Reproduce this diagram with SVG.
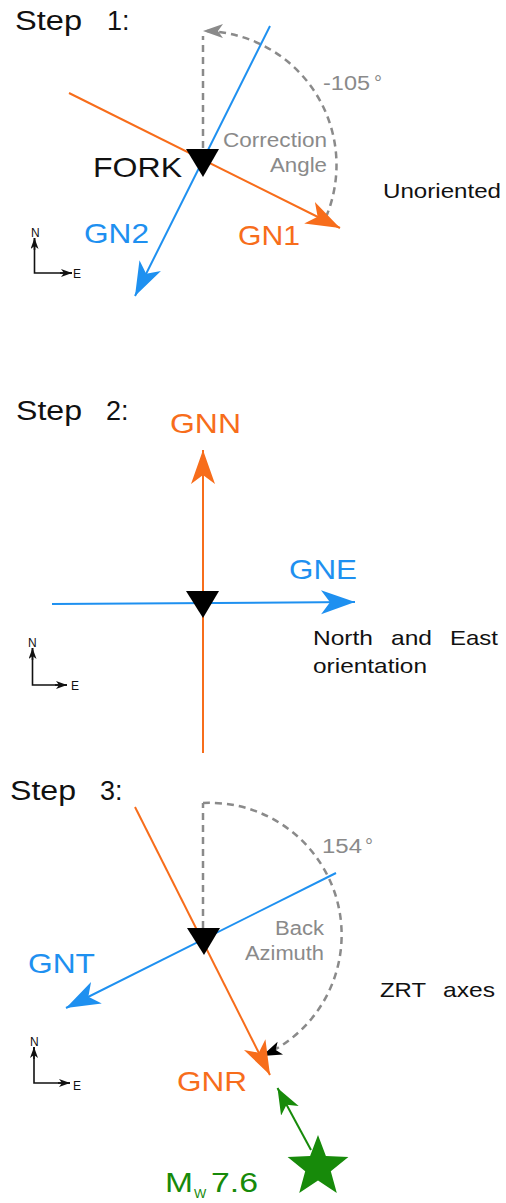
<svg xmlns="http://www.w3.org/2000/svg" width="506" height="1203" viewBox="0 0 506 1203">
<style>
text{font-family:"Liberation Sans",Arial,Helvetica,sans-serif}
.step{font-size:27px;fill:#111}
.lab{font-size:28px}
.or{fill:#f76d1b}
.bl{fill:#1e90f0}
.gr{font-size:20px;fill:#8a8a8a}
.bk{font-size:21px;fill:#111}
.ax{font-size:12px;fill:#111}
.lo{stroke:#f76d1b;stroke-width:2;fill:none}
.lb{stroke:#1e90f0;stroke-width:2;fill:none}
.dash{stroke:#8a8a8a;stroke-width:2.5;stroke-dasharray:7 5;fill:none}
.axl{stroke:#111;stroke-width:1.6;fill:none}
.tri{fill:#000}
</style>
<defs>
<marker id="ao" markerUnits="userSpaceOnUse" markerWidth="36" markerHeight="26" viewBox="0 0 36 26" refX="34" refY="12" orient="auto"><path d="M0,0 L34,12 L0,24 L9,12 Z" fill="#f76d1b"/></marker>
<marker id="ab" markerUnits="userSpaceOnUse" markerWidth="36" markerHeight="26" viewBox="0 0 36 26" refX="34" refY="12" orient="auto"><path d="M0,0 L34,12 L0,24 L9,12 Z" fill="#1e90f0"/></marker>
<marker id="ag" markerUnits="userSpaceOnUse" markerWidth="28" markerHeight="24" viewBox="0 0 28 24" refX="26" refY="10" orient="auto"><path d="M0,0 L26,10 L0,20 L7,10 Z" fill="#178a0a"/></marker>
<marker id="agr" markerUnits="userSpaceOnUse" markerWidth="22" markerHeight="16" viewBox="0 0 22 16" refX="20" refY="7" orient="auto"><path d="M0,0 L20,7 L0,14 L5,7 Z" fill="#8a8a8a"/></marker>
<marker id="ak" markerUnits="userSpaceOnUse" markerWidth="22" markerHeight="16" viewBox="0 0 22 16" refX="20" refY="7" orient="auto"><path d="M0,0 L20,7 L0,14 L5,7 Z" fill="#000"/></marker>
<marker id="as" markerUnits="userSpaceOnUse" markerWidth="12" markerHeight="10" viewBox="0 0 12 10" refX="11" refY="4" orient="auto"><path d="M0,0 L11,4 L0,8 L3,4 Z" fill="#111"/></marker>
</defs>

<g id="connectors">
  <!-- Step 1 -->
  <line class="dash" x1="203" y1="148" x2="203" y2="36"/>
  <path class="dash" d="M326,217 A134,134 0 0 0 203,31" marker-end="url(#agr)"/>
  <line class="lo" x1="69" y1="93" x2="340" y2="228" marker-end="url(#ao)"/>
  <line class="lb" x1="270" y1="26" x2="135" y2="296" marker-end="url(#ab)"/>
  <polyline class="axl" points="34.5,238 34.5,273 72,273"/>
  <line class="axl" x1="34.5" y1="250" x2="34.5" y2="238" marker-end="url(#as)"/>
  <line class="axl" x1="60" y1="273" x2="72" y2="273" marker-end="url(#as)"/>
  <!-- Step 2 -->
  <line class="lo" x1="203" y1="753" x2="203" y2="450" marker-end="url(#ao)"/>
  <line class="lb" x1="52" y1="604" x2="355" y2="602" marker-end="url(#ab)"/>
  <polyline class="axl" points="32.5,648 32.5,685 67,685"/>
  <line class="axl" x1="32.5" y1="660" x2="32.5" y2="648" marker-end="url(#as)"/>
  <line class="axl" x1="55" y1="685" x2="67" y2="685" marker-end="url(#as)"/>
  <!-- Step 3 -->
  <line class="dash" x1="203" y1="928" x2="203" y2="803"/>
  <path class="dash" d="M203,803 A132,132 0 0 1 262,1056" marker-end="url(#ak)"/>
  <line class="lo" x1="135" y1="807" x2="270" y2="1075" marker-end="url(#ao)"/>
  <line class="lb" x1="336" y1="873" x2="66" y2="1008" marker-end="url(#ab)"/>
  <line stroke="#178a0a" stroke-width="2" x1="311" y1="1150" x2="277.5" y2="1088" marker-end="url(#ag)"/>
  <polyline class="axl" points="34,1047 34,1083 70,1083"/>
  <line class="axl" x1="34" y1="1059" x2="34" y2="1047" marker-end="url(#as)"/>
  <line class="axl" x1="58" y1="1083" x2="70" y2="1083" marker-end="url(#as)"/>
</g>

<g id="step1">
  <text class="step" x="15" y="30" textLength="67" lengthAdjust="spacingAndGlyphs">Step</text>
  <text class="step" x="107" y="30">1:</text>
  <g id="fork1"><polygon class="tri" points="186,149 219,149 203,177"/>
  <text x="93" y="177" font-size="28" fill="#111" textLength="89" lengthAdjust="spacingAndGlyphs">FORK</text></g>
  <text class="gr" x="223" y="147" textLength="104" lengthAdjust="spacingAndGlyphs">Correction</text>
  <text class="gr" x="270" y="172" textLength="57" lengthAdjust="spacingAndGlyphs">Angle</text>
  <text class="gr" x="323" y="90" textLength="47" lengthAdjust="spacingAndGlyphs">-105</text>
  <text class="gr" x="374" y="90">°</text>
  <text class="bk" x="383" y="198" font-size="22" textLength="118" lengthAdjust="spacingAndGlyphs">Unoriented</text>
  <text class="lab or" x="238" y="245" textLength="62" lengthAdjust="spacingAndGlyphs">GN1</text>
  <text class="lab bl" x="84" y="243" textLength="65" lengthAdjust="spacingAndGlyphs">GN2</text>
  <text class="ax" x="31" y="237">N</text>
  <text class="ax" x="73" y="278">E</text>
</g>

<g id="step2">
  <text class="step" x="16" y="420" textLength="66" lengthAdjust="spacingAndGlyphs">Step</text>
  <text class="step" x="106" y="420">2:</text>
  <g id="fork2"><polygon class="tri" points="186,591 219,591 203,618"/></g>
  <text class="lab or" x="170" y="433" textLength="71" lengthAdjust="spacingAndGlyphs">GNN</text>
  <text class="lab bl" x="289" y="579" textLength="68" lengthAdjust="spacingAndGlyphs">GNE</text>
  <text class="bk" x="313" y="645" textLength="60" lengthAdjust="spacingAndGlyphs">North</text>
  <text class="bk" x="391" y="645" textLength="41" lengthAdjust="spacingAndGlyphs">and</text>
  <text class="bk" x="450" y="645" textLength="48" lengthAdjust="spacingAndGlyphs">East</text>
  <text class="bk" x="313" y="673" textLength="114" lengthAdjust="spacingAndGlyphs">orientation</text>
  <text class="ax" x="28" y="647">N</text>
  <text class="ax" x="71" y="690">E</text>
</g>

<g id="step3">
  <text class="step" x="10" y="800" textLength="66" lengthAdjust="spacingAndGlyphs">Step</text>
  <text class="step" x="100" y="800">3:</text>
  <g id="fork3"><polygon class="tri" points="187,928 220,928 204,955"/></g>
  <text class="gr" x="322" y="853" textLength="40" lengthAdjust="spacingAndGlyphs">154</text>
  <text class="gr" x="365" y="853">°</text>
  <text class="gr" x="275" y="935" textLength="49" lengthAdjust="spacingAndGlyphs">Back</text>
  <text class="gr" x="245" y="960" textLength="79" lengthAdjust="spacingAndGlyphs">Azimuth</text>
  <text class="lab bl" x="28" y="973" textLength="67" lengthAdjust="spacingAndGlyphs">GNT</text>
  <text class="bk" x="380" y="997" textLength="46" lengthAdjust="spacingAndGlyphs">ZRT</text>
  <text class="bk" x="443" y="997" textLength="52" lengthAdjust="spacingAndGlyphs">axes</text>
  <text class="lab or" x="177" y="1091" textLength="70" lengthAdjust="spacingAndGlyphs">GNR</text>
  <text class="ax" x="30" y="1046">N</text>
  <text class="ax" x="73" y="1090">E</text>
  <g id="event">
    <polygon fill="#178a0a" points="318,1135 325.9,1156.1 348.4,1157.1 330.8,1171.2 336.8,1192.9 318,1180.5 299.2,1192.9 305.2,1171.2 287.6,1157.1 310.1,1156.1"/>
    <text x="165" y="1192" font-size="28" fill="#178a0a" textLength="28" lengthAdjust="spacingAndGlyphs">M</text>
    <text x="194" y="1198" font-size="13" fill="#178a0a">W</text>
    <text x="211" y="1192" font-size="28" fill="#178a0a" textLength="47" lengthAdjust="spacingAndGlyphs">7.6</text>
  </g>
</g>
</svg>
